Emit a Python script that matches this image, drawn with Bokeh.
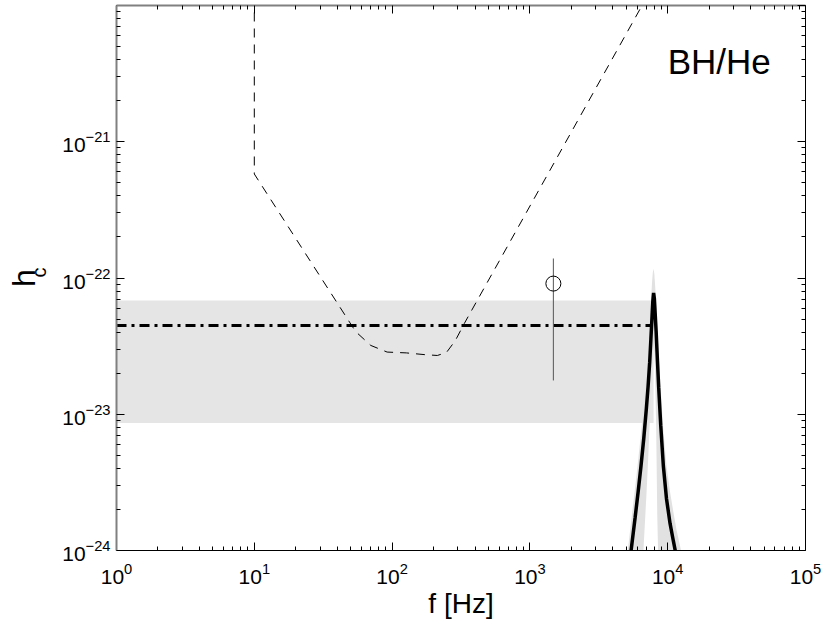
from bokeh.plotting import figure
from bokeh.models import (LogAxis, FixedTicker, Label, Range1d, Title,
                          CustomJSTickFormatter, LogTickFormatter)
from bokeh.embed import file_html
from bokeh.resources import INLINE

FONT = "Liberation Sans"

# ---------------- data ----------------
band_f = [1.0, 7900.0]
band_lo = [8.63e-24]
band_hi = [6.84e-23]
mean_f = [1.0, 7500.0]
mean_h = [4.48e-23, 4.48e-23]

sens_f = [10, 10, 54.3, 70, 92, 127, 171, 213, 248, 288, 334, 8000]
sens_h = [2.0e-20, 5.8e-22, 4.05e-23, 3.2e-23, 2.86e-23, 2.82e-23, 2.74e-23,
          2.70e-23, 2.84e-23, 3.48e-23, 4.63e-23, 1.45e-20]

pt_f = [1480.0]
pt_h = [9.1e-23]
pt_lo = [1.77e-23]
pt_hi = [1.39e-22]

peak_f = [5000, 5200, 5500, 5800, 6100, 6400, 6700, 7000, 7200, 7400, 7550, 7700,
          7800, 7900, 8000, 8100, 8250, 8400, 8600, 8900, 9300, 9800, 10400,
          11000, 11600, 12500, 13000]
peak_h = [5.0e-25, 7.1e-25, 1.12e-24, 1.74e-24, 2.69e-24, 4.17e-24, 6.61e-24, 1.10e-23,
          1.58e-23, 2.40e-23, 3.55e-23, 5.25e-23, 6.76e-23, 7.76e-23, 7.08e-23,
          5.62e-23, 3.98e-23, 2.63e-23, 1.58e-23, 8.32e-24, 4.17e-24, 2.40e-24,
          1.58e-24, 1.17e-24, 8.9e-25, 6.3e-25, 5.2e-25]
peak_hi = [7.9e-25, 1.12e-24, 1.82e-24, 2.88e-24, 4.57e-24, 7.24e-24, 1.17e-23, 2.0e-23,
           2.95e-23, 4.47e-23, 6.6e-23, 9.3e-23, 1.10e-22, 1.17e-22, 1.07e-22,
           8.9e-23, 6.5e-23, 4.47e-23, 2.8e-23, 1.51e-23, 7.6e-24, 4.17e-24,
           2.69e-24, 1.91e-24, 1.41e-24, 1.0e-24, 8.5e-25]
peak_lo = [5e-26, 6e-26, 8e-26, 1.2e-25, 2.0e-25, 4.0e-25, 1.1e-24, 2.5e-24,
           4.5e-24, 8.5e-24, 1.4e-23, 2.2e-23, 2.8e-23, 3.2e-23, 2.8e-23,
           2.0e-23, 8.0e-24, 1.8e-24, 6.5e-25, 3e-25, 1.6e-25, 1e-25,
           7e-26, 5e-26, 4e-26, 3e-26, 3e-26]

x_ticks = [1e0, 1e1, 1e2, 1e3, 1e4, 1e5]
y_ticks = [1e-24, 1e-23, 1e-22, 1e-21]
x_minor = [m * 10.0 ** k for k in range(0, 5) for m in range(2, 10)]
y_minor = [m * 10.0 ** k for k in range(-24, -20) for m in range(2, 10)]

# ---------------- figure ----------------
p = figure(x_axis_type="log", y_axis_type="log",
           x_range=Range1d(1, 1e5), y_range=Range1d(1e-24, 1e-20),
           frame_width=689, frame_height=545,
           min_border_left=116, min_border_right=22, min_border_top=5,
           min_border_bottom=72,
           output_backend="svg", toolbar_location=None)
p.grid.visible = False
p.outline_line_color = None
p.background_fill_color = "white"
p.border_fill_color = "white"

blank = CustomJSTickFormatter(code="return ''")


def style_axis(ax, ticks, minor, color, width, labels):
    ax.ticker = FixedTicker(ticks=ticks, minor_ticks=minor)
    ax.major_tick_in = 8
    ax.major_tick_out = 0
    ax.minor_tick_in = 4
    ax.minor_tick_out = 0
    ax.axis_line_color = color
    ax.axis_line_width = width
    ax.major_tick_line_color = "black"
    ax.minor_tick_line_color = "black"
    if labels:
        ax.formatter = LogTickFormatter()
        ax.major_label_text_font = FONT
        ax.major_label_text_font_size = "21px"
        ax.major_label_text_color = "black"
    else:
        ax.formatter = blank
        ax.major_label_standoff = 0
        ax.major_label_text_font_size = "0px"


xa = p.xaxis[0]
ya = p.yaxis[0]
style_axis(xa, x_ticks, x_minor, "black", 1, True)
style_axis(ya, y_ticks, y_minor, "#808080", 2, True)
xa.major_label_standoff = 12
ya.major_label_standoff = 6

xa.axis_label = "f [Hz]"
xa.axis_label_text_font = FONT
xa.axis_label_text_font_size = "28px"
xa.axis_label_text_font_style = "normal"
xa.axis_label_text_color = "black"
xa.axis_label_standoff = 1

# subscript "c" of h_c : a side title, placed from the top of the frame
tc = Title(text="c", text_font=FONT, text_font_size="20px",
           text_font_style="normal", text_color="black",
           align="right", offset=262, standoff=20)
p.add_layout(tc, "left")

# "h" of h_c on an outer, otherwise invisible left axis
ha = LogAxis(ticker=FixedTicker(ticks=[]), formatter=blank)
ha.axis_line_color = None
ha.major_tick_line_color = None
ha.minor_tick_line_color = None
ha.major_tick_in = 0
ha.major_tick_out = 0
ha.minor_tick_in = 0
ha.minor_tick_out = 0
ha.major_label_standoff = 0
ha.major_label_text_font_size = "0px"
ha.axis_label = "h"
ha.axis_label_text_font = FONT
ha.axis_label_text_font_size = "32px"
ha.axis_label_text_font_style = "normal"
ha.axis_label_text_color = "black"
ha.axis_label_standoff = -26
p.add_layout(ha, "left")

top = LogAxis()
right = LogAxis()
style_axis(top, x_ticks, x_minor, "#808080", 2, False)
style_axis(right, y_ticks + [1e-20], y_minor, "black", 1, False)
p.add_layout(top, "above")
p.add_layout(right, "right")

# band
p.quad(left=[band_f[0]], right=[band_f[1]], bottom=band_lo, top=band_hi,
       fill_color="#e5e5e5", line_color=None)
# peak envelope
p.varea(x=peak_f, y1=peak_lo, y2=peak_hi, fill_color="#e1e1e1")
# sensitivity curve
p.line(sens_f, sens_h, line_color="black", line_width=1, line_dash="9 7")
# mean (dash-dot)
p.line(mean_f, mean_h, line_color="black", line_width=3, line_dash="10 5 3 5")
# error bar + point
p.segment(x0=pt_f, y0=pt_lo, x1=pt_f, y1=pt_hi, line_color="#555555", line_width=1)
p.scatter(pt_f, pt_h, marker="circle", size=15, fill_color=None,
          line_color="black", line_width=1)
# peak line
p.line(peak_f, peak_h, line_color="black", line_width=3.5)

# panel tag
p.add_layout(Label(x=1e4, y=1e-20, y_offset=-56, text="BH/He",
                   text_align="left", text_baseline="alphabetic",
                   text_font=FONT, text_font_size="35px", text_color="black"))

open("out.html", "w").write(file_html(p, INLINE))
